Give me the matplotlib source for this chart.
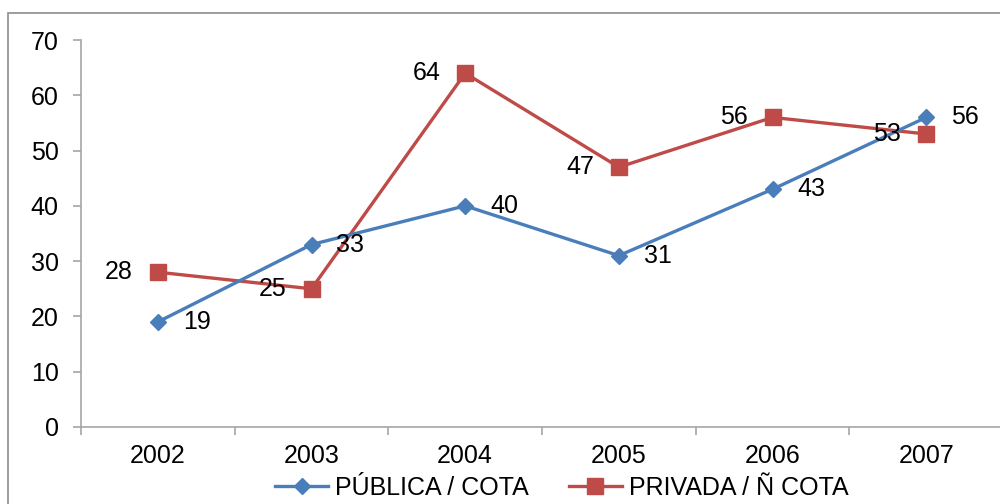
import matplotlib.pyplot as plt
from matplotlib.patches import Rectangle

# data
years = ["2002", "2003", "2004", "2005", "2006", "2007"]
publica = [19, 33, 40, 31, 43, 56]
privada = [28, 25, 64, 47, 56, 53]

blue = "#4A7EBB"
red = "#BE4B48"
spine_col = "#A6A6A6"
fs = 18

plt.rcParams["font.family"] = ["Liberation Sans", "DejaVu Sans"]

fig = plt.figure(figsize=(10, 5.04), dpi=100)
fig.patches.append(Rectangle((0.008, -0.1), 1.2, 1.074, transform=fig.transFigure,
                             fill=False, edgecolor="#8C8C8C", linewidth=1.2))

ax = fig.add_axes([0.081, 0.1528, 0.922, 0.7678])
x = list(range(len(years)))

ax.plot(x, publica, color=blue, lw=2.4, marker="D", markersize=8.5,
        label="PÚBLICA / COTA", zorder=3)
ax.plot(x, privada, color=red, lw=2.4, marker="s", markersize=11,
        label="PRIVADA / Ñ COTA", zorder=2)

for xi, v in zip(x, publica):
    ax.annotate(str(v), (xi, v), xytext=(28, 0), textcoords="offset points",
                ha="center", va="center", fontsize=fs)
for xi, v in zip(x, privada):
    ax.annotate(str(v), (xi, v), xytext=(-28, 0), textcoords="offset points",
                ha="center", va="center", fontsize=fs)

ax.set_xlim(-0.5, 5.5)
ax.set_ylim(0, 70)
ax.set_yticks(range(0, 71, 10))
ax.set_xticks(x)
ax.set_xticklabels(years)
ax.set_xticks([i + 0.5 for i in range(-1, 6)], minor=True)
ax.tick_params(axis="x", which="major", length=0, pad=12, labelsize=fs)
ax.tick_params(axis="x", which="minor", length=6, color=spine_col, width=1.2)
ax.tick_params(axis="y", length=6, color=spine_col, width=1.2, pad=10, labelsize=fs)

for s in ["top", "right"]:
    ax.spines[s].set_visible(False)
for s in ["left", "bottom"]:
    ax.spines[s].set_color(spine_col)
    ax.spines[s].set_linewidth(1.2)

fig.legend(loc="center", bbox_to_anchor=(0.562, 0.032), ncol=2, frameon=False,
           fontsize=fs, handlelength=2.1, handletextpad=0.3, columnspacing=1.6)

plt.savefig("out.png", dpi=100)
